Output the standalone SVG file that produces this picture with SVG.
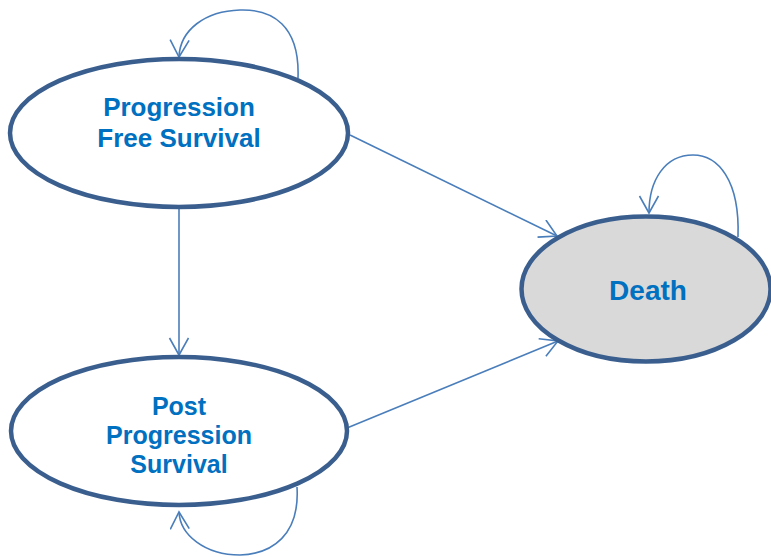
<svg xmlns="http://www.w3.org/2000/svg" width="771" height="557" viewBox="0 0 771 557">
<style>
.node{fill:#fff;stroke:#3a5f8f;stroke-width:4.5}
.death{fill:#d9d9d9}
.lbl{font-family:"Liberation Sans",Arial,sans-serif;font-weight:bold;fill:#0070c0;text-anchor:middle}
.conn{fill:none;stroke:#4a7ebb;stroke-width:1.6}
</style>
<defs>
<marker id="arr" markerUnits="userSpaceOnUse" markerWidth="22" markerHeight="22" refX="18" refY="10" orient="auto">
<path d="M1,0.5 L18,10 L1,19.5" fill="none" stroke="#4a7ebb" stroke-width="1.6"/>
</marker>
</defs>
<g id="connectors">
<path class="conn" d="M298,78 C300,25 272,9 240,10 C205,11 180,30 179,57" marker-end="url(#arr)"/>
<path class="conn" d="M738,237 C740,180 718,155 693,155 C665,155 649,180 649,213" marker-end="url(#arr)"/>
<path class="conn" d="M297,487 C300,535 272,554 240,555 C205,555 180,535 179,512" marker-end="url(#arr)"/>
<path class="conn" d="M179,208 L179,355" marker-end="url(#arr)"/>
<path class="conn" d="M350,135 L557,236" marker-end="url(#arr)"/>
<path class="conn" d="M347,428 L558,341" marker-end="url(#arr)"/>
</g>
<g id="pfs">
<ellipse class="node" cx="179" cy="133" rx="169" ry="74"/>
<text class="lbl" x="179" y="116" font-size="26">Progression</text>
<text class="lbl" x="179" y="147" font-size="26">Free Survival</text>
</g>
<g id="pps">
<ellipse class="node" cx="179" cy="431" rx="168" ry="74"/>
<text class="lbl" x="179" y="415" font-size="25">Post</text>
<text class="lbl" x="179" y="444" font-size="25">Progression</text>
<text class="lbl" x="179" y="473" font-size="25">Survival</text>
</g>
<g id="death">
<ellipse class="node death" cx="646" cy="289" rx="124.5" ry="72.5"/>
<text class="lbl" x="648" y="300" font-size="28">Death</text>
</g>
</svg>
